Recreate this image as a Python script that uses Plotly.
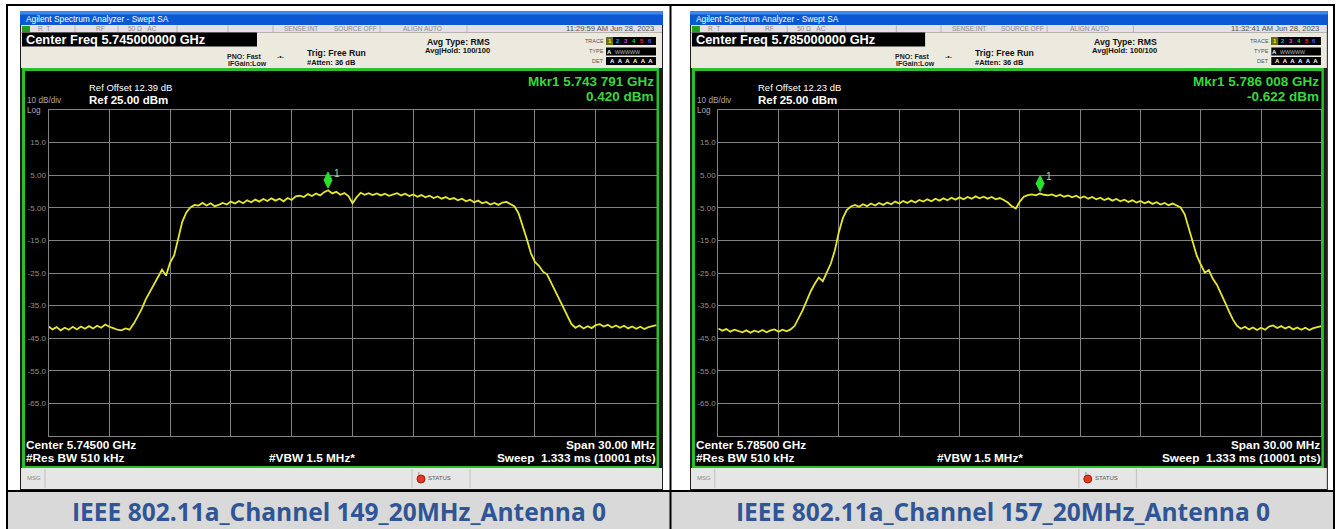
import numpy as np
import plotly.graph_objects as go

W, H = 1340, 529

# ---- sweep settings -------------------------------------------------------
center_mhz = [5745.0, 5785.0]
span_mhz = 30.0
sweep_points = 151
ref_level_dbm = 25.0
y_bottom_dbm = -75.0

# ---- measured RMS-averaged trace levels (dBm), one value per sweep point ----
level_ch149 = [
    -41.4, -42.3, -41.6, -42.6, -41.8, -42.4, -41.5, -42.3, -41.4, -42.1,
    -41.3, -42.0, -41.2, -41.8, -40.8, -41.5, -41.9, -42.4, -42.6, -42.0,
    -42.4, -40.6, -38.4, -36.0, -33.1, -30.8, -28.4, -26.3, -24.0, -25.8,
    -21.8, -19.6, -14.2, -9.3, -6.4, -4.9, -4.1, -4.3, -3.5, -4.3,
    -3.6, -4.5, -4.1, -3.5, -4.0, -3.1, -3.7, -2.9, -3.6, -2.7,
    -3.3, -2.5, -3.1, -2.3, -2.9, -2.1, -2.8, -2.2, -3.0, -2.0,
    -2.6, -1.5, -1.3, -1.7, -0.8, -1.4, -0.6, -1.2, -0.2, 0.4,
    -0.6, -0.1, -1.0, -0.5, -1.4, -3.6, -1.8, -0.4, -1.0, -0.5,
    -1.1, -0.6, -1.2, -0.7, -1.3, -0.8, -0.5, -1.2, -0.7, -1.4,
    -0.9, -1.6, -1.1, -1.8, -1.3, -2.0, -1.5, -2.2, -1.7, -2.4,
    -2.0, -2.7, -2.2, -3.0, -2.5, -3.3, -2.8, -3.6, -3.2, -4.0,
    -3.5, -4.1, -3.4, -3.2, -3.9, -4.6, -6.8, -10.5, -14.6, -18.9,
    -21.6, -22.8, -24.6, -25.4, -27.9, -30.2, -32.8, -35.4, -38.1, -40.6,
    -41.8, -41.1, -42.0, -41.3, -41.9, -41.0, -40.7, -41.4, -40.9, -41.7,
    -41.1, -41.8, -41.2, -42.0, -41.4, -42.1, -41.5, -42.2, -41.6, -41.3,
    -41.0,
]
level_ch157 = [
    -42.0, -42.7, -42.2, -43.0, -42.4, -42.9, -43.2, -42.6, -43.3, -42.7,
    -43.1, -42.5, -43.2, -42.6, -42.3, -43.0, -42.4, -42.9, -42.3, -41.2,
    -39.0, -36.4, -33.5, -30.6, -28.3, -26.4, -27.5, -24.6, -22.1, -18.0,
    -12.4, -8.1, -5.6, -4.6, -4.1, -4.7, -3.9, -4.5, -3.7, -4.3,
    -3.5, -4.1, -3.4, -3.9, -3.1, -3.7, -2.9, -3.5, -2.8, -3.4,
    -2.6, -3.1, -2.4, -3.0, -2.2, -2.8, -2.1, -2.7, -1.9, -2.5,
    -1.8, -2.4, -1.7, -2.2, -1.5, -2.1, -1.6, -2.2, -1.7, -2.4,
    -2.0, -2.6, -3.4, -4.5, -5.2, -3.1, -1.6, -1.1, -0.9, -1.2,
    -0.622, -1.0, -1.2, -0.9, -1.5, -1.0, -1.6, -1.2, -1.8, -1.3,
    -2.0, -1.5, -2.2, -1.7, -2.4, -1.9, -2.6, -2.1, -2.8, -2.3,
    -3.0, -2.5, -3.2, -2.7, -3.4, -2.9, -3.6, -3.1, -3.8, -3.3,
    -4.0, -3.5, -4.2, -3.7, -4.3, -4.9, -7.0, -11.2, -15.8, -19.7,
    -22.4, -24.9, -24.1, -26.8, -28.6, -31.0, -33.9, -36.7, -39.3, -41.2,
    -42.1, -41.5, -42.3, -41.7, -42.5, -41.8, -42.4, -41.4, -41.1, -41.9,
    -41.3, -42.0, -41.5, -42.3, -41.7, -42.4, -41.8, -42.5, -41.9, -41.6,
    -41.3,
]
levels = [level_ch149, level_ch157]

mkr_freq_ghz = [5.743791, 5.786008]
mkr_level_dbm = [0.420, -0.622]
ref_offset_db = [12.39, 12.23]
time_stamp = ["11:29:59 AM Jun 28, 2023", "11:32:41 AM Jun 28, 2023"]
caption = ["IEEE 802.11a_Channel 149_20MHz_Antenna 0",
           "IEEE 802.11a_Channel 157_20MHz_Antenna 0"]
y_tick_vals = [15, 5, -5, -15, -25, -35, -45, -55, -65]
y_tick_text = ["15.0", "5.00", "-5.00", "-15.0", "-25.0", "-35.0",
               "-45.0", "-55.0", "-65.0"]

AN = "Liberation Sans, Arial, sans-serif"
GRID = "#828282"

# ---- pixel helpers ----------------------------------------------------------
shapes, annos = [], []


def fx(x):
    return x / W


def fy(y):
    return 1 - y / H


def box(x0, y0, x1, y1, fill, layer="below"):
    shapes.append(dict(type="rect", xref="paper", yref="paper",
                       x0=fx(x0), x1=fx(x1), y0=fy(y1), y1=fy(y0),
                       fillcolor=fill, line=dict(width=0), layer=layer))


def seg(x0, y0, x1, y1, color, w=1, layer="below"):
    shapes.append(dict(type="line", xref="paper", yref="paper",
                       x0=fx(x0), x1=fx(x1), y0=fy(y0), y1=fy(y1),
                       line=dict(color=color, width=w), layer=layer))


def label(x, y, s, size, color, anchor="left", bold=False, family=AN):
    annos.append(dict(xref="paper", yref="paper", x=fx(x), y=fy(y),
                      text=f"<b>{s}</b>" if bold else s, showarrow=False,
                      xanchor=anchor, yanchor="middle", borderpad=0,
                      font=dict(size=size, color=color, family=family)))


# each analyzer screenshot is laid out in its own local pixel frame
panel_left = [20, 690]
panel_scale = [1.0, 0.992]

# ---- table frame and caption cells ---------------------------------------
box(7, 492, 670, 529, "#D9D9D9")
box(671, 492, 1334, 529, "#D9D9D9")
seg(7, 5, 1334, 5, "#000", 2)
seg(7, 491, 1334, 491, "#000", 2)
seg(7, 4, 7, 529, "#000", 2)
seg(670.5, 4, 670.5, 529, "#000", 2)
seg(1334, 4, 1334, 529, "#000", 2)

fig = go.Figure()

for k in range(2):
    def X(x, k=k):
        return panel_left[k] + (x - 20) * panel_scale[k]

    c = center_mhz[k]
    xa = "x" if k == 0 else "x2"
    ya = "y" if k == 0 else "y2"

    # window frame and title bar
    box(X(20), 11, X(663), 490, "#1d1d1d")
    box(X(20), 11, X(663), 25, "#0B58D2")
    box(X(20), 11, X(663), 14.5, "#3C86EC")
    label(X(25), 18.5, "Agilent Spectrum Analyzer - Swept SA", 8.4, "#FFFFFF")

    # status row
    box(X(21), 25, X(662), 32.5, "#E2E2E2")
    box(X(22), 26, X(30), 32, "#1E9E1E")
    for sx in [75, 118, 177, 228, 273, 380, 467]:
        seg(X(sx), 25.5, X(sx), 32, "#B4B4B4", 1)
    label(X(37), 29, "R&nbsp;&nbsp;T", 6.5, "#8A8A8A")
    label(X(95), 29, "RF", 6.5, "#8A8A8A")
    label(X(127), 29, "50 Ω&nbsp;&nbsp;&nbsp;AC", 6.5, "#8A8A8A")
    label(X(283), 29, "SENSE:INT", 6.5, "#8A8A8A")
    label(X(333), 29, "SOURCE OFF", 6.5, "#8A8A8A")
    label(X(402), 29, "ALIGN AUTO", 6.5, "#8A8A8A")
    label(X(655), 29, time_stamp[k], 7.6, "#505050", anchor="right")

    # settings header
    box(X(21), 32.5, X(662), 68, "#ECEADF")
    box(X(22), 32.5, X(257), 46.5, "#000000")
    label(X(25), 39.5, f"Center Freq {c / 1000:.9f} GHz", 12.8, "#FFFFFF", bold=True)
    label(X(263), 56, "PNO: Fast", 7, "#222222", anchor="right", bold=True)
    label(X(268), 63.5, "IFGain:Low", 7, "#222222", anchor="right", bold=True)
    label(X(276), 56, "-•-", 7, "#222222")
    label(X(306), 53, "Trig: Free Run", 8.7, "#111111", bold=True)
    label(X(306), 62.5, "#Atten: 36 dB", 7.5, "#111111", bold=True)
    label(X(426), 42, "Avg Type: RMS", 8.7, "#111111", bold=True)
    label(X(424), 50.5, "Avg|Hold: 100/100", 7.6, "#111111", bold=True)
    label(X(605), 41, "TRACE", 5.5, "#555555", anchor="right")
    label(X(605), 51, "TYPE", 5.5, "#555555", anchor="right")
    label(X(605), 61, "DET", 5.5, "#555555", anchor="right")
    box(X(606), 37, X(656), 45, "#000000")
    box(X(606), 37, X(613), 45, "#6B6B10")
    trace_colors = ["#F0F020", "#00B0F0", "#E040E0", "#20D020", "#F03030", "#4060F0"]
    for i, col in enumerate(trace_colors):
        label(X(609.5 + 8 * i), 41, str(i + 1), 6, col, anchor="center", bold=True)
    box(X(606), 47.5, X(656), 55.5, "#000000")
    label(X(609.5), 51.5, "A", 6, "#FFFFFF", anchor="center", bold=True)
    label(X(614), 51.5, "WWWWW", 5.3, "#BBBBBB")
    box(X(606), 57, X(656), 65, "#000000")
    label(X(631), 61, "A&nbsp;&nbsp;A&nbsp;&nbsp;A&nbsp;&nbsp;A&nbsp;&nbsp;A&nbsp;&nbsp;A",
          6, "#FFFFFF", anchor="center", bold=True)

    # display area with green frame
    box(X(22), 68, X(659), 468, "#2DBE2D")
    box(X(25), 71, X(656.5), 466, "#000000")

    label(X(26), 100.5, "10 dB/div", 8.2, "#A8A8A8")
    label(X(26), 110.5, "Log", 8.2, "#A8A8A8")
    label(X(88), 87.5, f"Ref Offset {ref_offset_db[k]:.2f} dB", 9.5, "#FFFFFF")
    label(X(88), 100, f"Ref {ref_level_dbm:.2f} dBm", 11.5, "#FFFFFF", bold=True)

    mf = f"{mkr_freq_ghz[k]:.6f}"
    label(X(655), 81.5, f"Mkr1 {mf[:5]} {mf[5:]} GHz", 13.5, "#3BD63B",
          anchor="right", bold=True)
    label(X(655), 96.5, f"{mkr_level_dbm[k]:.3f} dBm", 13.5, "#3BD63B",
          anchor="right", bold=True)

    label(X(25), 445, f"Center {c / 1000:.5f} GHz", 11.8, "#FFFFFF", bold=True)
    label(X(25), 458, "#Res BW 510 kHz", 11.8, "#FFFFFF", bold=True)
    label(X(268), 458, "#VBW 1.5 MHz*", 11.8, "#FFFFFF", bold=True)
    label(X(656), 445, f"Span {span_mhz:.2f} MHz", 11.8, "#FFFFFF",
          anchor="right", bold=True)
    label(X(657), 458, "Sweep&nbsp;&nbsp;1.333 ms (10001 pts)", 11.8, "#FFFFFF",
          anchor="right", bold=True)

    # message / status bar
    box(X(21), 468, X(662), 489, "#E6E6E6")
    seg(X(45), 469, X(45), 488, "#C0C0C0", 1)
    seg(X(412), 469, X(412), 488, "#C0C0C0", 1)
    seg(X(470), 469, X(470), 488, "#C0C0C0", 1)
    label(X(26), 478, "MSG", 6, "#888888")
    shapes.append(dict(type="circle", xref="paper", yref="paper",
                       x0=fx(X(417)), x1=fx(X(425)), y0=fy(483), y1=fy(475),
                       fillcolor="#E03A20", line=dict(color="#A02010", width=1),
                       layer="above"))
    label(X(417), 474, "I", 6, "#606060")
    label(X(427), 478, "STATUS", 6, "#555555")

    # caption
    cell_center = 338.5 if k == 0 else 1002.5
    label(cell_center, 511.5, caption[k], 24.5, "#2F5597", anchor="center",
          bold=True, family="Open Sans, Noto Sans, sans-serif")

    # spectrum trace
    freqs = np.linspace(c - span_mhz / 2, c + span_mhz / 2, sweep_points)
    fig.add_trace(go.Scatter(x=freqs, y=levels[k], mode="lines",
                             line=dict(color="#E6E62A", width=1.8),
                             xaxis=xa, yaxis=ya, hoverinfo="skip",
                             showlegend=False))

    # marker 1 diamond sitting on the trace point, plus its label
    shapes.append(dict(type="path", xref=xa, yref=ya,
                       xsizemode="pixel", ysizemode="pixel",
                       xanchor=mkr_freq_ghz[k] * 1000, yanchor=mkr_level_dbm[k],
                       path="M0,2 L4,10 L0,18 L-4,10 Z",
                       fillcolor="#2BE02B", line=dict(color="#2BE02B", width=1),
                       layer="above"))
    annos.append(dict(xref=xa, yref=ya, x=mkr_freq_ghz[k] * 1000,
                      y=mkr_level_dbm[k], xshift=9, yshift=17, text="1",
                      showarrow=False, font=dict(size=10, color="#CACA8C", family=AN)))

    xdom = [fx(X(48.5)), fx(X(656.5))]
    ydom = [fy(436), fy(110)]
    xaxis = dict(domain=xdom, range=[c - span_mhz / 2, c + span_mhz / 2],
                 tick0=c - span_mhz / 2, dtick=3, showgrid=True, gridcolor=GRID,
                 gridwidth=1, zeroline=False, showticklabels=False, ticks="",
                 showline=True, linecolor=GRID, linewidth=1, mirror=True,
                 fixedrange=True, anchor=ya)
    yaxis = dict(domain=ydom, range=[y_bottom_dbm, ref_level_dbm],
                 tickvals=y_tick_vals, ticktext=y_tick_text, showgrid=True,
                 gridcolor=GRID, gridwidth=1, zeroline=False, ticks="",
                 showline=True, linecolor=GRID, linewidth=1, mirror=True,
                 tickfont=dict(size=8, color="#8E8E8E", family=AN),
                 fixedrange=True, anchor=xa)
    if k == 0:
        fig.update_layout(xaxis=xaxis, yaxis=yaxis)
    else:
        fig.update_layout(xaxis2=xaxis, yaxis2=yaxis)

fig.update_layout(width=W, height=H, autosize=False,
                  margin=dict(l=0, r=0, t=0, b=0, pad=0),
                  paper_bgcolor="#FFFFFF", plot_bgcolor="#000000",
                  showlegend=False, shapes=shapes, annotations=annos)

fig.write_html("out.html")
